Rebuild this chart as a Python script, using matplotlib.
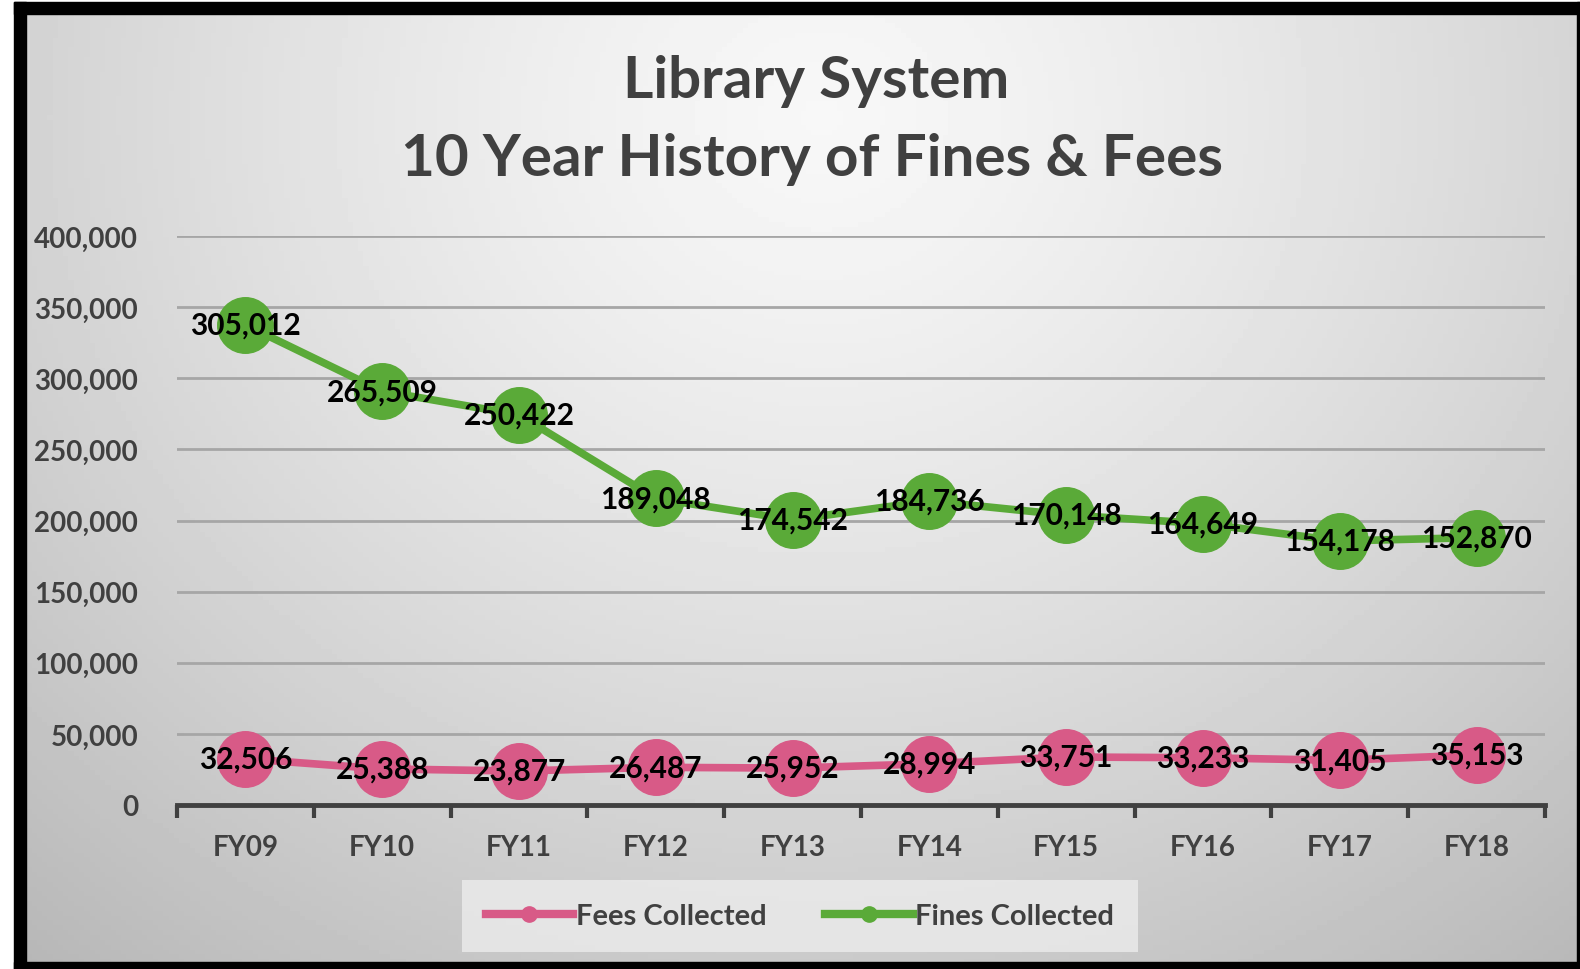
import numpy as np
import matplotlib
matplotlib.use('Agg')
import matplotlib.pyplot as plt
from matplotlib.patches import Rectangle
from matplotlib.lines import Line2D

plt.rcParams['font.family'] = ['Lato', 'DejaVu Sans']

# data
years = ['FY09', 'FY10', 'FY11', 'FY12', 'FY13', 'FY14', 'FY15', 'FY16', 'FY17', 'FY18']
fees = [32506, 25388, 23877, 26487, 25952, 28994, 33751, 33233, 31405, 35153]
fines = [305012, 265509, 250422, 189048, 174542, 184736, 170148, 164649, 154178, 152870]

pink = '#d85a87'
green = '#5aaa38'
dark = '#404040'

fig = plt.figure(figsize=(15.8, 9.7), dpi=100)

# background gradient (light in the upper middle, grey at the edges)
bg = fig.add_axes([0, 0, 1, 1], zorder=-10)
yy, xx = np.mgrid[0:1:200j, 0:1:300j]
d = np.sqrt(((xx - 0.52) / 0.75) ** 2 + ((yy - 0.12) / 1.1) ** 2)
shade = 0.97 - 0.24 * d ** 1.3
bg.imshow(shade, cmap='gray', vmin=0, vmax=1, extent=[0, 1, 0, 1],
          aspect='auto', origin='upper')
bg.set_axis_off()

# black frame around the chart
W, H = 1580, 970
def box(x0, y0, w, h, c):
    fig.patches.append(Rectangle((x0 / W, 1 - (y0 + h) / H), w / W, h / H,
                                 transform=fig.transFigure, color=c, zorder=6))
box(0, 0, 14, H, 'white')
box(0, 0, W, 3, 'white')
box(14, 3, 12, H, 'black')
box(14, 3, W, 12, 'black')
box(14, 963, W, 7, 'black')
box(W - 3, 3, 3, H, 'black')

ax = fig.add_axes([177 / W, 1 - 806 / H, (1545 - 177) / W, (806 - 237) / H])
ax.patch.set_alpha(0)

x = np.arange(len(years))
fees_arr = np.array(fees)
stacked = fees_arr + np.array(fines)  # stacked line chart

ax.plot(x, fees_arr, color=pink, lw=5.5, marker='o', ms=40, mec=pink, zorder=3)
ax.plot(x, stacked, color=green, lw=5.5, marker='o', ms=40, mec=green, zorder=3)

for i in range(len(years)):
    ax.text(x[i], fees_arr[i], f'{fees[i]:,}', ha='center', va='center',
            fontsize=21.5, fontweight='bold', color='black', zorder=4)
    ax.text(x[i], stacked[i], f'{fines[i]:,}', ha='center', va='center',
            fontsize=21.5, fontweight='bold', color='black', zorder=4)

ax.set_xlim(-0.5, len(years) - 0.5)
ax.set_ylim(0, 400000)
ax.set_yticks(np.arange(0, 400001, 50000))
ax.set_yticklabels([f'{v:,}' for v in range(0, 400001, 50000)], fontweight='bold')
ax.yaxis.grid(True, color='#a6a6a6', lw=2)
ax.set_axisbelow(True)
for s in ['top', 'right', 'left']:
    ax.spines[s].set_visible(False)
ax.spines['bottom'].set_color(dark)
ax.spines['bottom'].set_linewidth(3.5)
ax.spines['bottom'].set_zorder(2)

ax.set_xticks(x)
ax.set_xticklabels(years, fontweight='bold')
ax.set_xticks(np.arange(-0.5, len(years)), minor=True)
ax.tick_params(axis='x', which='major', length=0, pad=21, labelsize=20, labelcolor=dark)
ax.tick_params(axis='x', which='minor', length=9, width=3, color=dark, direction='out')
ax.tick_params(axis='y', length=0, pad=28, labelsize=20, labelcolor=dark)

fig.text(816 / W, 1 - 82 / H, 'Library System', ha='center', va='center',
         fontsize=42, fontweight='bold', color=dark)
fig.text(812 / W, 1 - 160 / H, '10 Year History of Fines & Fees', ha='center',
         va='center', fontsize=42, fontweight='bold', color=dark)

handles = [Line2D([], [], color=pink, lw=6, marker='o', ms=11, label='Fees Collected'),
           Line2D([], [], color=green, lw=6, marker='o', ms=11, label='Fines Collected')]
leg = fig.legend(handles=handles, loc='center', bbox_to_anchor=(800 / W, 1 - 917 / H),
                 ncol=2, frameon=True, fontsize=21, handlelength=3.0, handletextpad=0.1,
                 columnspacing=2.0, borderpad=0.8, fancybox=False,
                 prop={'weight': 'bold', 'size': 21})
leg.get_frame().set_facecolor('#ececec')
leg.get_frame().set_edgecolor('none')
for t in leg.get_texts():
    t.set_color(dark)

fig.savefig('out.png', dpi=100)
